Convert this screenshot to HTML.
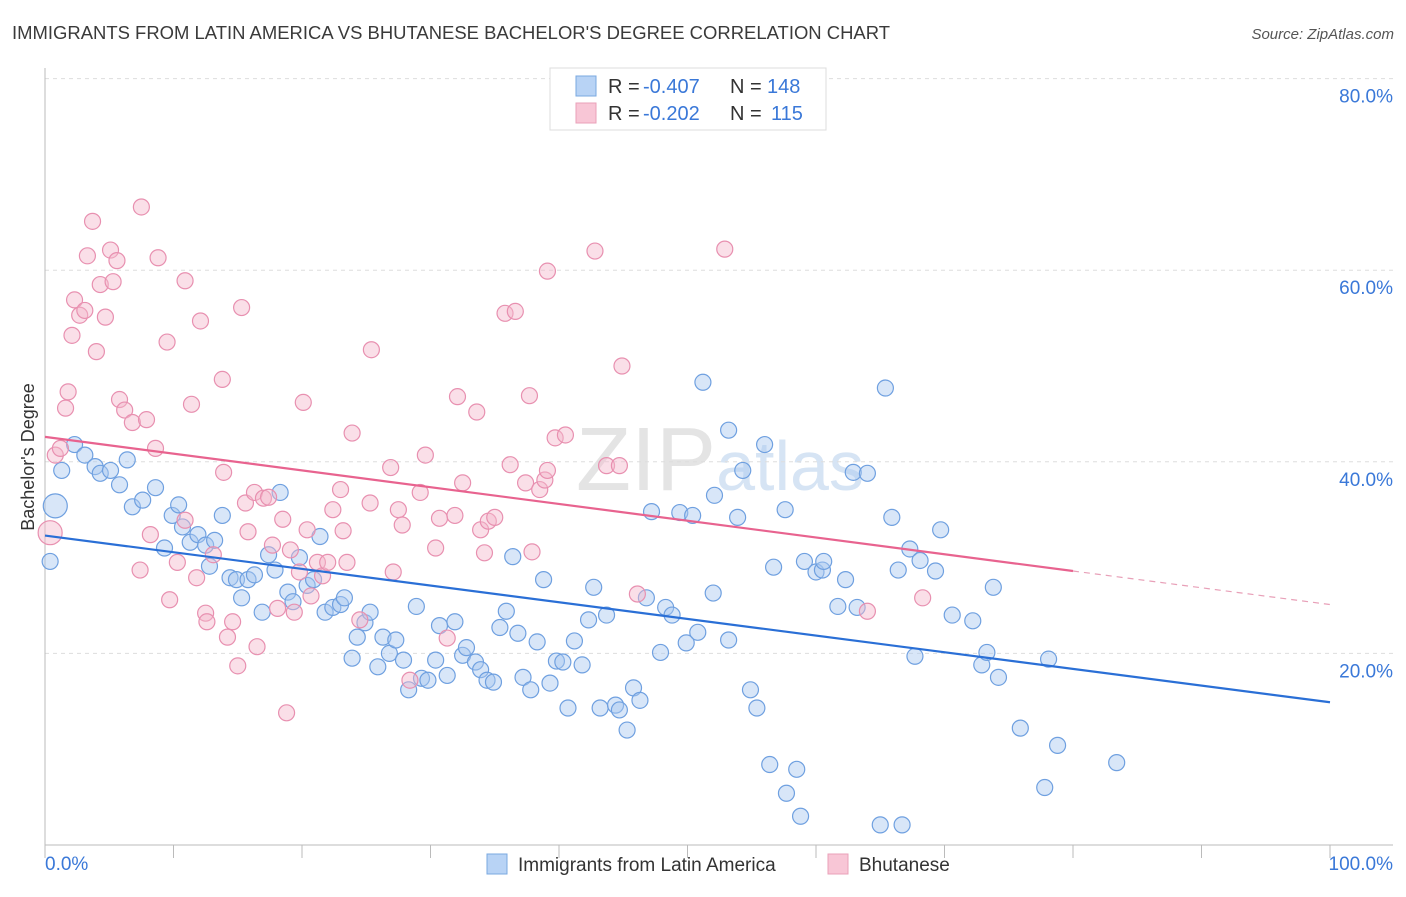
<!DOCTYPE html>
<html><head><meta charset="utf-8"><style>
body{margin:0;background:#fff;font-family:"Liberation Sans",sans-serif;}
svg text{font-family:"Liberation Sans",sans-serif;}
</style></head><body>
<svg id="chart" width="1406" height="892">
<text x="12" y="39" font-size="18" fill="#3a3a3a" textLength="878" lengthAdjust="spacingAndGlyphs">IMMIGRANTS FROM LATIN AMERICA VS BHUTANESE BACHELOR'S DEGREE CORRELATION CHART</text>
<text x="1394" y="39" font-size="15" fill="#555" font-style="italic" text-anchor="end">Source: ZipAtlas.com</text>
<text x="720" y="490" font-size="90" fill="#e4e4e4" text-anchor="middle" font-family="Liberation Serif">ZIP<tspan fill="#d6e4f4" font-family="Liberation Sans" font-size="70">atlas</tspan></text>
<g id="grid"></g>
<g id="axes"></g>
<g id="pts"></g>
<g id="trends"></g>
<text transform="translate(34,457) rotate(-90)" font-size="18" fill="#333" text-anchor="middle">Bachelor's Degree</text>
<g>
<rect x="550" y="68" width="276" height="62" fill="#fff" stroke="#ddd"/>
<rect x="576" y="76" width="20" height="20" fill="#b8d3f5" stroke="#7aa8e0"/>
<rect x="576" y="103" width="20" height="20" fill="#f8c6d6" stroke="#eaa0b8"/>
<text x="608" y="93" font-size="20" fill="#333">R =</text>
<text x="643" y="93" font-size="20" fill="#3a78d8">-0.407</text>
<text x="730" y="93" font-size="20" fill="#333">N =</text>
<text x="767" y="93" font-size="20" fill="#3a78d8">148</text>
<text x="608" y="120" font-size="20" fill="#333">R =</text>
<text x="643" y="120" font-size="20" fill="#3a78d8">-0.202</text>
<text x="730" y="120" font-size="20" fill="#333">N =</text>
<text x="771" y="120" font-size="20" fill="#3a78d8">115</text>
</g>
<g>
<rect x="487" y="854" width="20" height="20" fill="#b8d3f5" stroke="#7aa8e0"/>
<text x="518" y="871" font-size="19" fill="#333">Immigrants from Latin America</text>
<rect x="828" y="854" width="20" height="20" fill="#f8c6d6" stroke="#eaa0b8"/>
<text x="859" y="871" font-size="19" fill="#333">Bhutanese</text>
</g>
</svg>
<script>
const yTicks=[20,40,60,80];
const blueX=[0.8,0.4,1.3,2.3,3.1,3.9,4.3,5.1,5.8,6.4,6.8,7.6,8.6,9.3,9.9,10.4,10.7,11.3,11.9,12.5,13.2,12.8,13.8,14.4,14.9,15.3,15.8,16.3,16.9,17.4,17.9,18.3,18.9,19.3,19.8,20.4,20.9,21.4,21.8,22.4,23.0,23.3,23.9,24.3,24.9,25.3,25.9,26.3,26.8,27.3,27.9,28.3,28.9,29.3,29.8,30.4,30.7,31.3,31.9,32.5,32.8,33.5,33.9,34.4,34.9,35.4,35.9,36.4,36.8,37.2,37.8,38.3,38.8,39.3,39.8,40.3,40.7,41.2,41.8,42.3,42.7,43.2,43.7,44.4,44.7,45.3,45.8,46.3,46.8,47.2,47.9,48.3,48.8,49.4,49.9,50.4,50.8,51.2,52.0,52.1,53.2,53.2,53.9,54.3,54.9,55.4,56.0,56.4,56.7,57.6,57.7,58.5,58.8,59.1,60.0,60.5,60.6,61.7,62.3,62.9,63.2,64.0,65.0,65.4,65.9,66.4,66.7,67.3,67.7,68.1,69.3,69.7,70.6,72.2,72.9,73.3,73.8,74.2,75.9,77.8,78.1,78.8,83.4];
const blueY=[35.4,29.6,39.1,41.8,40.7,39.5,38.8,39.1,37.6,40.2,35.3,36.0,37.3,31.0,34.4,35.5,33.2,31.6,32.4,31.3,31.8,29.1,34.4,27.9,27.7,25.8,27.7,28.2,24.3,30.3,28.7,36.8,26.4,25.4,30.0,27.1,27.7,32.2,24.3,24.8,25.1,25.8,19.5,21.7,23.2,24.3,18.6,21.7,20.0,21.4,19.3,16.2,24.9,17.4,17.2,19.3,22.9,17.7,23.3,19.8,20.6,19.1,18.3,17.2,17.0,22.7,24.4,30.1,22.1,17.5,16.2,21.2,27.7,16.9,19.2,19.1,14.3,21.3,18.8,23.5,26.9,14.3,24.0,14.6,14.1,12.0,16.4,15.1,25.8,34.8,20.1,24.8,24.0,34.7,21.1,34.4,22.2,48.3,26.3,36.5,43.3,21.4,34.2,39.1,16.2,14.3,41.8,8.4,29.0,35.0,5.4,7.9,3.0,29.6,28.5,28.7,29.6,24.9,27.7,38.9,24.8,38.8,2.1,47.7,34.2,28.7,2.1,30.9,19.7,29.7,28.6,32.9,24.0,23.4,18.8,20.1,26.9,17.5,12.2,6.0,19.4,10.4,8.6];
const pinkX=[0.4,0.8,1.2,1.6,1.8,2.1,2.3,2.7,3.1,3.3,3.7,4.0,4.3,4.7,5.1,5.3,5.6,5.8,6.2,6.8,7.4,7.5,7.9,8.2,8.6,8.8,9.5,9.7,10.3,10.9,10.9,11.4,11.8,12.1,12.5,12.6,13.1,13.8,13.9,14.2,14.6,15.0,15.3,15.6,15.8,16.3,16.5,17.0,17.4,17.7,18.1,18.5,18.8,19.1,19.4,19.8,20.1,20.4,20.7,21.2,21.6,22.0,22.4,23.0,23.2,23.5,23.9,24.5,25.3,25.4,26.9,27.1,27.5,27.8,28.4,29.2,29.6,30.4,30.7,31.3,31.9,32.1,32.5,33.6,33.9,34.2,34.5,35.0,35.8,36.2,36.6,37.7,37.4,37.9,38.5,38.9,39.1,39.1,39.7,40.5,42.8,43.7,44.7,44.9,46.1,52.9,64.0,68.3];
const pinkY=[32.6,40.7,41.4,45.6,47.3,53.2,56.9,55.3,55.8,61.5,65.1,51.5,58.5,55.1,62.1,58.8,61.0,46.5,45.4,44.1,28.7,66.6,44.4,32.4,41.4,61.3,52.5,25.6,29.5,58.9,33.9,46.0,27.9,54.7,24.2,23.3,30.3,48.6,38.9,21.7,23.3,18.7,56.1,35.7,32.7,36.8,20.7,36.2,36.3,31.3,24.7,34.0,13.8,30.8,24.3,28.5,46.2,32.9,26.0,29.5,28.1,29.5,35.0,37.1,32.8,29.5,43.0,23.5,35.7,51.7,39.4,28.5,35.0,33.4,17.2,36.8,40.7,31.0,34.1,21.6,34.4,46.8,37.8,45.2,32.9,30.5,33.8,34.2,55.5,39.7,55.7,46.9,37.8,30.6,37.1,38.1,39.1,59.9,42.5,42.8,62.0,39.6,39.6,50.0,26.2,62.2,24.4,25.8];
const blueTrend=[32.3,14.9];
const pinkTrend=[42.6,25.1];
const pinkSolidEnd=80;
const NS="http://www.w3.org/2000/svg";
const X=v=>45+v*12.85, Y=v=>845-v*9.58;
function mk(tag,attrs,parent){const e=document.createElementNS(NS,tag);for(const k in attrs)e.setAttribute(k,attrs[k]);parent.appendChild(e);return e;}
const grid=document.getElementById('grid'),axes=document.getElementById('axes'),pts=document.getElementById('pts'),tr=document.getElementById('trends');
yTicks.forEach(t=>{
 const l=mk('line',{x1:45,x2:1393,y1:Y(t),y2:Y(t),stroke:'#ddd','stroke-dasharray':'4,4'},grid);
 
 
 const tx=mk('text',{x:1393,y:Y(t)+24,'font-size':19,fill:'#3a78d8','text-anchor':'end'},grid);
 tx.textContent=t.toFixed(1)+'%';
 
 
});
mk('line',{x1:45,x2:45,y1:68,y2:845,stroke:'#bbb'},axes);
mk('line',{x1:45,x2:1393,y1:845,y2:845,stroke:'#bbb'},axes);
for(let i=0;i<=10;i++){mk('line',{x1:X(i*10),x2:X(i*10),y1:845,y2:858,stroke:'#bbb'},axes);}
const xl=mk('text',{x:45,y:870,'font-size':19,fill:'#3a78d8'},axes);xl.textContent='0.0%';


const xr=mk('text',{x:1393,y:870,'font-size':19,fill:'#3a78d8','text-anchor':'end'},axes);xr.textContent='100.0%';


function drawPts(xs,ys,fill,stroke,name){xs.forEach((x,i)=>{
 const r=(i===0)?12:8;
 const c=mk('circle',{cx:X(x),cy:Y(ys[i]),r:r,fill:fill,'fill-opacity':0.45,stroke:stroke,'stroke-width':1.2},pts);
 
 
});}
drawPts(blueX,blueY,'#a8c8f0','#6fa0e0','blue-point');
drawPts(pinkX,pinkY,'#f5b8cc','#e890b0','pink-point');
const bl=mk('line',{x1:X(0),y1:Y(blueTrend[0]),x2:X(100),y2:Y(blueTrend[1]),stroke:'#2a6fd6','stroke-width':2.2},tr);


const pAt=x=>pinkTrend[0]+(pinkTrend[1]-pinkTrend[0])*x/100;
const pl=mk('line',{x1:X(0),y1:Y(pAt(0)),x2:X(pinkSolidEnd),y2:Y(pAt(pinkSolidEnd)),stroke:'#e8638f','stroke-width':2.2},tr);


const pd=mk('line',{x1:X(pinkSolidEnd),y1:Y(pAt(pinkSolidEnd)),x2:X(100),y2:Y(pAt(100)),stroke:'#e8a0b8','stroke-width':1.2,'stroke-dasharray':'6,5'},tr);


</script>
</body></html>
